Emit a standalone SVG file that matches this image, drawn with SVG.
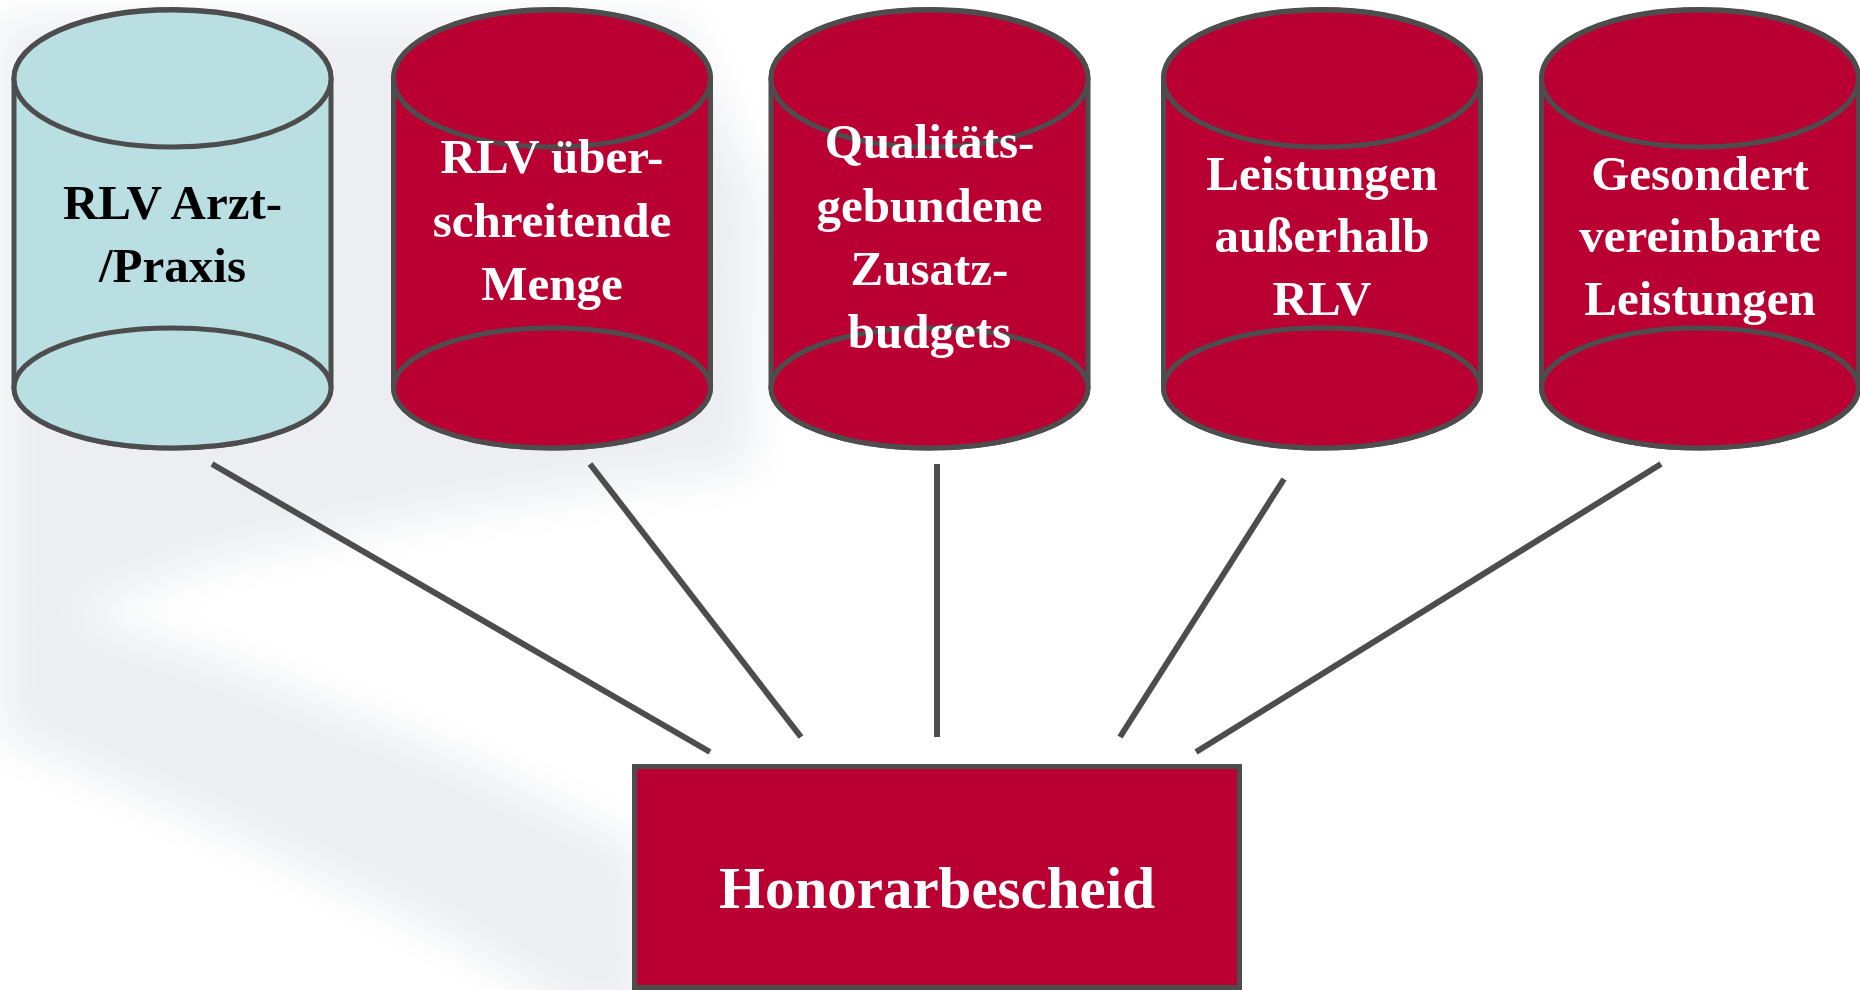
<svg xmlns="http://www.w3.org/2000/svg" width="1860" height="990" viewBox="0 0 1860 990">
  <defs>
    <filter id="soft" x="-20%" y="-20%" width="140%" height="140%">
      <feGaussianBlur stdDeviation="22"/>
    </filter>
  </defs>
  <style>
    .body { stroke: #4d4d4d; stroke-width: 5; }
    .red { fill: #ba0033; }
    .blue { fill: #b9dfe2; }
    .lbl { font-family: "Liberation Serif", "DejaVu Serif", serif; font-weight: bold; font-size: 49px; text-anchor: middle; }
    .w { fill: #ffffff; }
    .k { fill: #000000; }
    .conn line { stroke: #4d4d4d; stroke-width: 6; }
  </style>

  <rect x="0" y="0" width="1860" height="990" fill="#ffffff"/>
  <g id="background" fill="#eceef1" filter="url(#soft)">
    <path d="M0,20 L680,20 L760,200 L750,470 L625,484 L446,512 L223,558 L80,610 L0,640 Z"/>
    <path d="M0,598 L67,612 L223,663 L446,754 L640,848 L650,1010 L575,1010 L446,933 L223,828 L0,733 Z"/>
  </g>

  <g id="node-rlv-arzt">
    <path class="body blue" d="M14,78 L14,388 A158.5,60 0 0 0 331,388 L331,78 A158.5,68.5 0 0 0 14,78 Z"/>
    <ellipse class="body blue" cx="172.5" cy="388" rx="158.5" ry="60"/>
    <ellipse class="body blue" cx="172.5" cy="78.5" rx="158.5" ry="68.5"/>
    <text class="lbl k" x="172.5" y="219">RLV Arzt-</text>
    <text class="lbl k" x="172.5" y="282">/Praxis</text>
  </g>

  <g id="node-rlv-ueber">
    <path class="body red" d="M393.5,78 L393.5,388 A158.5,60 0 0 0 710.5,388 L710.5,78 A158.5,68.5 0 0 0 393.5,78 Z"/>
    <ellipse class="body red" cx="552" cy="388" rx="158.5" ry="60"/>
    <ellipse class="body red" cx="552" cy="78.5" rx="158.5" ry="68.5"/>
    <text class="lbl w" x="552" y="173">RLV über-</text>
    <text class="lbl w" x="552" y="237">schreitende</text>
    <text class="lbl w" x="552" y="300">Menge</text>
  </g>

  <g id="node-qualitaet">
    <path class="body red" d="M771,78 L771,388 A158.5,60 0 0 0 1088,388 L1088,78 A158.5,68.5 0 0 0 771,78 Z"/>
    <ellipse class="body red" cx="929.5" cy="388" rx="158.5" ry="60"/>
    <ellipse class="body red" cx="929.5" cy="78.5" rx="158.5" ry="68.5"/>
    <text class="lbl w" x="929.5" y="158">Qualitäts-</text>
    <text class="lbl w" x="929.5" y="222">gebundene</text>
    <text class="lbl w" x="929.5" y="285">Zusatz-</text>
    <text class="lbl w" x="929.5" y="348">budgets</text>
  </g>

  <g id="node-ausserhalb">
    <path class="body red" d="M1163.5,78 L1163.5,388 A158.5,60 0 0 0 1480.5,388 L1480.5,78 A158.5,68.5 0 0 0 1163.5,78 Z"/>
    <ellipse class="body red" cx="1322" cy="388" rx="158.5" ry="60"/>
    <ellipse class="body red" cx="1322" cy="78.5" rx="158.5" ry="68.5"/>
    <text class="lbl w" x="1322" y="190">Leistungen</text>
    <text class="lbl w" x="1322" y="252">außerhalb</text>
    <text class="lbl w" x="1322" y="315">RLV</text>
  </g>

  <g id="node-gesondert">
    <path class="body red" d="M1541.5,78 L1541.5,388 A158.5,60 0 0 0 1858.5,388 L1858.5,78 A158.5,68.5 0 0 0 1541.5,78 Z"/>
    <ellipse class="body red" cx="1700" cy="388" rx="158.5" ry="60"/>
    <ellipse class="body red" cx="1700" cy="78.5" rx="158.5" ry="68.5"/>
    <text class="lbl w" x="1700" y="190">Gesondert</text>
    <text class="lbl w" x="1700" y="252">vereinbarte</text>
    <text class="lbl w" x="1700" y="315">Leistungen</text>
  </g>

  <g id="connectors" class="conn">
    <line x1="212" y1="464" x2="710" y2="752"/>
    <line x1="590" y1="464" x2="801" y2="737"/>
    <line x1="937" y1="464" x2="937" y2="737"/>
    <line x1="1284" y1="479" x2="1120" y2="737"/>
    <line x1="1661" y1="464" x2="1196" y2="752"/>
  </g>

  <g id="node-honorarbescheid">
    <rect class="body red" x="634.5" y="766.5" width="605" height="221"/>
    <text class="w" x="937" y="908" font-family="Liberation Serif, DejaVu Serif, serif" font-weight="bold" font-size="59" text-anchor="middle">Honorarbescheid</text>
  </g>
</svg>
